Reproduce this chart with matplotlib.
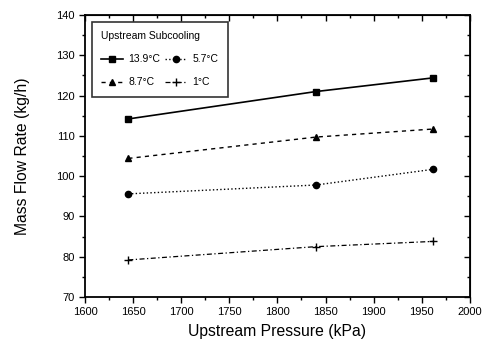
import matplotlib
matplotlib.use("Agg")
import matplotlib.pyplot as plt
from matplotlib.ticker import MultipleLocator

plt.rcParams['font.family'] = ['Liberation Sans', 'DejaVu Sans']

pressure = [1645, 1840, 1962]
flow_139 = [114.2, 121.0, 124.4]
flow_87 = [104.4, 109.7, 111.7]
flow_57 = [95.6, 97.8, 101.7]
flow_1 = [79.2, 82.5, 83.8]
labels = ["13.9°C", "8.7°C", "5.7°C", "1°C"]

fig = plt.figure(figsize=(4.92, 3.49), dpi=100)
ax = fig.add_axes([0.1728, 0.149, 0.7822, 0.808])

ax.plot(pressure, flow_139, '-', color='black', marker='s', ms=4.5, lw=1.2, label=labels[0])
ax.plot(pressure, flow_87, '--', color='black', marker='^', ms=4.5, lw=1.0, label=labels[1], dashes=(3, 3))
ax.plot(pressure, flow_57, ':', color='black', marker='o', ms=4.5, lw=1.0, label=labels[2])
ax.plot(pressure, flow_1, '-.', color='black', marker='+', ms=6, lw=0.9, label=labels[3], dashes=(4, 2, 1, 2))

ax.set_xlim(1600, 2000)
ax.set_ylim(70, 140)
ax.xaxis.set_major_locator(MultipleLocator(50))
ax.xaxis.set_minor_locator(MultipleLocator(25))
ax.yaxis.set_major_locator(MultipleLocator(10))
ax.yaxis.set_minor_locator(MultipleLocator(5))
ax.tick_params(axis='both', which='both', direction='out', top=False, right=False, labelsize=8, width=1.0)
ax.tick_params(which='major', length=4)
ax.tick_params(which='minor', length=2.5)

for sp in ax.spines.values():
    sp.set_linewidth(1.3)

# mirrored inward ticks on top and right
axt = ax.secondary_xaxis('top')
axt.xaxis.set_major_locator(MultipleLocator(50))
axt.xaxis.set_minor_locator(MultipleLocator(25))
axt.tick_params(which='both', direction='in', labeltop=False, width=1.0)
axt.tick_params(which='major', length=4)
axt.tick_params(which='minor', length=2.5)
axr = ax.secondary_yaxis('right')
axr.yaxis.set_major_locator(MultipleLocator(10))
axr.yaxis.set_minor_locator(MultipleLocator(5))
axr.tick_params(which='both', direction='in', labelright=False, width=1.0)
axr.tick_params(which='major', length=4)
axr.tick_params(which='minor', length=2.5)

ax.set_xlabel("Upstream Pressure (kPa)", fontsize=11.3, labelpad=5)
ax.set_ylabel("Mass Flow Rate (kg/h)", fontsize=11.3, labelpad=19)

leg = ax.legend(ncol=2, title="Upstream Subcooling", loc='upper left',
                bbox_to_anchor=(0.018, 0.975), fontsize=7.5, title_fontsize=7.5,
                frameon=True, fancybox=False, edgecolor='black',
                handlelength=2.1, columnspacing=0.45, handletextpad=0.5,
                borderpad=0.9, labelspacing=1.25, borderaxespad=0)
leg.get_frame().set_linewidth(1.2)
leg._legend_box.align = "left"

fig.savefig("out.png", dpi=100)
